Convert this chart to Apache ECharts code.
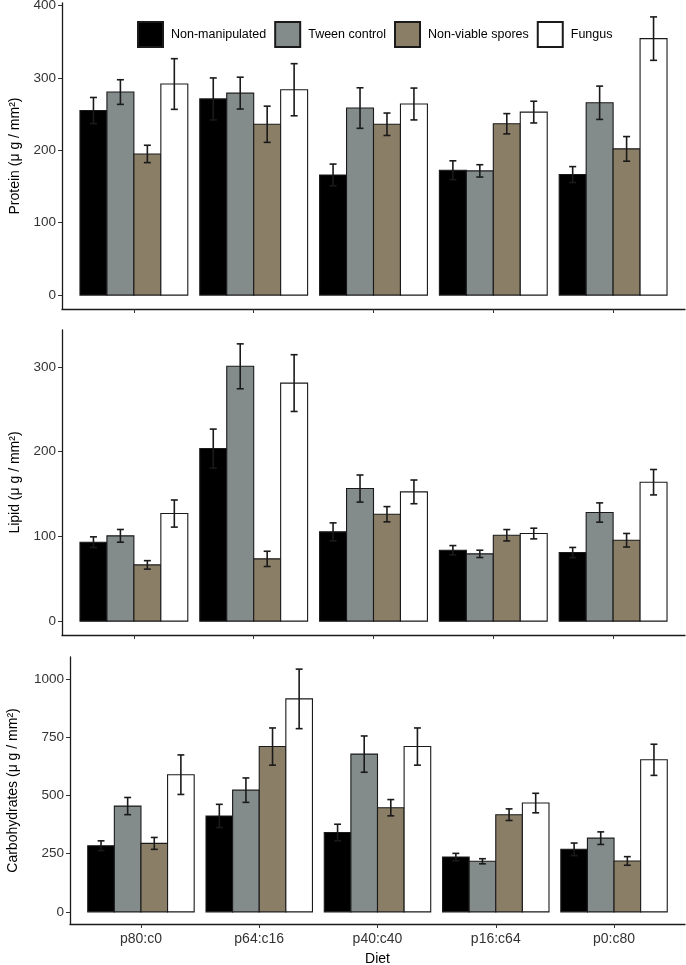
<!DOCTYPE html>
<html>
<head>
<meta charset="utf-8">
<script src="https://cdn.jsdelivr.net/npm/echarts@6/dist/echarts.min.js"></script>
<style>
  html, body { margin: 0; padding: 0; background: #fff; }
  #chart { width: 686px; height: 965px; }
</style>
</head>
<body>
<div id="chart"></div>
<script>
// categories and groups
var diets = ['p80:c0', 'p64:c16', 'p40:c40', 'p16:c64', 'p0:c80'];
var treatments = ['Non-manipulated', 'Tween control', 'Non-viable spores', 'Fungus'];
var colors = ['#000000', '#838B8B', '#8B7E66', '#FFFFFF'];

// Protein (means, error)
var proteinNonManip = [255, 271, 166, 172.5, 166.5];
var proteinTween = [280.5, 279, 258.4, 171.6, 265.7];
var proteinSpores = [195, 236, 236, 236.7, 202];
var proteinFungus = [291.6, 283.7, 264, 252.8, 354.3];
var proteinErrNonManip = [18, 29, 15, 13, 11];
var proteinErrTween = [17, 22, 28, 8.5, 23];
var proteinErrSpores = [12, 25, 15.5, 14, 17];
var proteinErrFungus = [35, 36, 22, 15, 30];

// Lipid
var lipidNonManip = [93.2, 203.7, 105.4, 83.7, 81];
var lipidTween = [100.7, 300.8, 156.5, 79.4, 128.2];
var lipidSpores = [66.4, 73.5, 126.2, 101.4, 95.5];
var lipidFungus = [127, 281, 152.6, 103.4, 164];
var lipidErrNonManip = [6.3, 23, 10.6, 5.5, 6];
var lipidErrTween = [7.5, 26.5, 16, 4.3, 11.4];
var lipidErrSpores = [5, 9, 9, 6.7, 8];
var lipidErrFungus = [16, 33.5, 14, 6.3, 15];

// Carbohydrates
var carbNonManip = [284.5, 412.5, 341.4, 236, 269];
var carbTween = [455, 523.5, 678.5, 217.6, 317];
var carbSpores = [294.5, 711, 448, 418, 219];
var carbFungus = [590, 916, 711, 468, 654];
var carbErrNonManip = [21, 50, 35.5, 15.6, 27];
var carbErrTween = [37, 52.5, 78, 11, 27];
var carbErrSpores = [25.6, 80, 35, 25, 18.5];
var carbErrFungus = [85, 128, 80, 42, 67];

// tick labels
var proteinTicks = [0, 100, 200, 300, 400];
var lipidTicks = [0, 100, 200, 300];
var carbTicks = [0, 250, 500, 750, 1000];
var dietTicks = [1, 2, 3, 4, 5];

var panels = [
  { name: 'Protein (\u03bc g / mm\u00b2)', ticks: proteinTicks,
    means: [proteinNonManip, proteinTween, proteinSpores, proteinFungus],
    errs: [proteinErrNonManip, proteinErrTween, proteinErrSpores, proteinErrFungus] },
  { name: 'Lipid (\u03bc g / mm\u00b2)', ticks: lipidTicks,
    means: [lipidNonManip, lipidTween, lipidSpores, lipidFungus],
    errs: [lipidErrNonManip, lipidErrTween, lipidErrSpores, lipidErrFungus] },
  { name: 'Carbohydrates (\u03bc g / mm\u00b2)', ticks: carbTicks,
    means: [carbNonManip, carbTween, carbSpores, carbFungus],
    errs: [carbErrNonManip, carbErrTween, carbErrSpores, carbErrFungus] }
];

var font = 'Liberation Sans, Arial, Helvetica, sans-serif';
var ink = '#1a1a1a';

// panel boxes in pixels
var grids = [
  { left: 62, right: 1, top: 3, height: 306 },
  { left: 62, right: 1, top: 330, height: 305 },
  { left: 70, right: 1, top: 657, height: 267 }
];

function barRenderer(k, color) {
  return function (params, api) {
    var x = api.value(0), y = api.value(1), e = api.value(2);
    var band = api.size([1, 0])[0];
    var bw = band * 0.9 / 4;
    var base = api.coord([x, 0]);
    var cx = base[0] + (k - 1.5) * bw;
    var top = api.coord([x, y])[1];
    var hi = api.coord([x, y + e])[1];
    var lo = api.coord([x, y - e])[1];
    var cap = bw * 0.13;
    return {
      type: 'group',
      children: [
        { type: 'rect', shape: { x: cx - bw / 2, y: top, width: bw, height: base[1] - top },
          style: { fill: color, stroke: ink, lineWidth: 1.1 } },
        { type: 'line', shape: { x1: cx, y1: hi, x2: cx, y2: lo }, style: { stroke: ink, lineWidth: 1.6 } },
        { type: 'line', shape: { x1: cx - cap, y1: hi, x2: cx + cap, y2: hi }, style: { stroke: ink, lineWidth: 1.6 } },
        { type: 'line', shape: { x1: cx - cap, y1: lo, x2: cx + cap, y2: lo }, style: { stroke: ink, lineWidth: 1.6 } }
      ]
    };
  };
}

var xAxes = [], yAxes = [], series = [];
panels.forEach(function (p, g) {
  var dmax = 0;
  p.means.forEach(function (m, k) {
    m.forEach(function (v, i) { dmax = Math.max(dmax, v + p.errs[k][i]); });
  });
  var last = g === panels.length - 1;
  xAxes.push({
    gridIndex: g, type: 'value', min: 0.4, max: 5.6,
    name: last ? 'Diet' : '', nameLocation: 'middle', nameGap: 28,
    nameTextStyle: { fontFamily: font, fontSize: 14, color: '#000' },
    axisLine: { show: true, onZero: false, lineStyle: { color: ink, width: 1.3 } },
    axisTick: { show: true, length: 4, customValues: dietTicks, lineStyle: { color: '#333' } },
    axisLabel: { show: last, customValues: dietTicks, margin: 8, fontFamily: font, fontSize: 14, color: '#333',
      formatter: function (v) { return diets[Math.round(v) - 1] || ''; } },
    splitLine: { show: false }
  });
  yAxes.push({
    gridIndex: g, type: 'value', min: -0.05 * dmax, max: 1.05 * dmax,
    name: p.name, nameLocation: 'middle', nameGap: g === 2 ? 50 : 40,
    nameTextStyle: { fontFamily: font, fontSize: 14, color: '#000' },
    axisLine: { show: true, onZero: false, lineStyle: { color: ink, width: 1.3 } },
    axisTick: { show: true, length: 4, customValues: p.ticks, lineStyle: { color: '#333' } },
    axisLabel: { customValues: p.ticks, margin: 6, fontFamily: font, fontSize: 13.5, color: '#333',
      formatter: function (v) { return String(Math.round(v)); } },
    splitLine: { show: false }
  });
  treatments.forEach(function (t, k) {
    series.push({
      type: 'custom', name: t, xAxisIndex: g, yAxisIndex: g,
      itemStyle: { color: colors[k], borderColor: ink, borderWidth: 1 },
      renderItem: barRenderer(k, colors[k]),
      encode: { x: 0, y: [1] },
      data: diets.map(function (d, i) { return [i + 1, p.means[k][i], p.errs[k][i]]; })
    });
  });
});

var chart = echarts.init(document.getElementById('chart'), null, { renderer: 'canvas' });
chart.setOption({
  animation: false,
  backgroundColor: '#fff',
  grid: grids.map(function (b) { return Object.assign({ containLabel: false, outerBoundsMode: 'none' }, b); }),
  xAxis: xAxes,
  yAxis: yAxes,
  legend: {
    data: treatments.map(function (t) { return { name: t, icon: 'rect' }; }),
    left: 132, top: 16, itemWidth: 25, itemHeight: 25, itemGap: 8,
    selectedMode: false,
    textStyle: { fontFamily: font, fontSize: 12.5, color: '#000', padding: [0, 0, 0, 3] }
  },
  series: series
});
</script>
</body>
</html>
